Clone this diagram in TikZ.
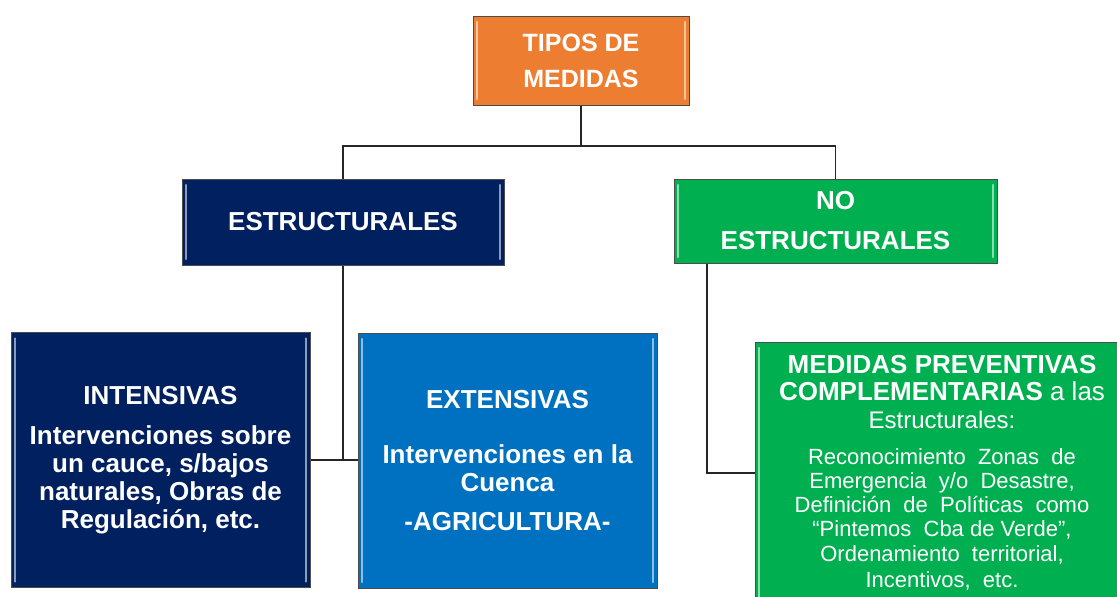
\documentclass[tikz,border=0pt]{standalone}
\usepackage{fontspec}
\setmainfont{Liberation Sans}
\definecolor{naranja}{HTML}{ED7D31}
\definecolor{marino}{HTML}{002060}
\definecolor{azul}{HTML}{0070C0}
\definecolor{verde}{HTML}{00B050}
\begin{document}
\begin{tikzpicture}[x=1pt, y=-1pt,
    caja/.style={draw=black!70, line width=1pt, fill=#1, text=white, align=center, inner sep=0pt,
      path picture={
        \draw[#1!45!white, line width=2.5pt, line cap=round]
          ([xshift=4pt, yshift=-6pt]path picture bounding box.north west) -- ([xshift=4pt, yshift=6pt]path picture bounding box.south west)
          ([xshift=-4pt, yshift=-6pt]path picture bounding box.north east) -- ([xshift=-4pt, yshift=6pt]path picture bounding box.south east);
      }},
    conector/.style={draw=black!85, line width=1.3pt}]

  \path[fill=white, use as bounding box] (0,0) rectangle (1117,597);
  \clip (0,0) rectangle (1117,597);

  % cabecera
  \node[caja=naranja, minimum width=216pt, minimum height=89pt, font=\fontsize{25}{36}\selectfont\bfseries]
    (tipos) at (581,60.5) {TIPOS DE\\MEDIDAS};

  % segundo nivel
  \node[caja=marino, minimum width=322pt, minimum height=86pt, font=\fontsize{26}{40}\selectfont\bfseries]
    (estr) at (343,222) {ESTRUCTURALES};
  \node[caja=verde, minimum width=323pt, minimum height=84pt, font=\fontsize{26}{40}\selectfont\bfseries]
    (noestr) at (835.5,221) {NO\\ESTRUCTURALES};

  % tercer nivel
  \node[caja=marino, minimum width=299pt, minimum height=255pt, font=\fontsize{26}{28}\selectfont\bfseries]
    (intens) at (160.5,460) {INTENSIVAS\\[12pt]Intervenciones sobre\\un cauce, s/bajos\\naturales, Obras de\\Regulación, etc.};
  \node[caja=azul, minimum width=299pt, minimum height=255pt, font=\fontsize{26}{28}\selectfont\bfseries]
    (extens) at (507.5,460.5) {EXTENSIVAS\\[27pt]Intervenciones en la\\Cuenca\\[11pt]-AGRICULTURA-};
  \node[caja=verde, minimum width=374pt, minimum height=262pt, font=\fontsize{26}{27}\selectfont\bfseries]
    (prev) at (942,473) {MEDIDAS PREVENTIVAS\\COMPLEMENTARIAS {\mdseries a las}\\[1pt]
      {\mdseries\fontsize{24}{24}\selectfont Estructurales:}\\[9pt]
      {\mdseries\fontsize{22}{24}\selectfont Reconocimiento\ \ Zonas\ \ de}\\[-3pt]
      {\mdseries\fontsize{22}{24}\selectfont Emergencia\ \ y/o\ \ Desastre,}\\[-3pt]
      {\mdseries\fontsize{22}{24}\selectfont Definición\ \ de\ \ Políticas\ \ como}\\[-3pt]
      {\mdseries\fontsize{22}{24}\selectfont “Pintemos\ \ Cba\ de\ Verde”,}\\[-2pt]
      {\mdseries\fontsize{22}{24}\selectfont Ordenamiento\ \ territorial,}\\[-1pt]
      {\mdseries\fontsize{22}{24}\selectfont Incentivos,\ \ etc.}};

  % conectores
  \coordinate (bus) at (581,146);
  \draw[conector] (tipos.south) -- (bus);
  \draw[conector] (estr.north) |- (bus) -| (noestr.north);
  \draw[conector] (intens.east) -- (intens.east -| extens.west);
  \draw[conector] (estr.south) -- (estr.south |- intens.east);
  \draw[conector] ([xshift=33.5pt]noestr.south west) |- (prev.west);
\end{tikzpicture}
\end{document}
